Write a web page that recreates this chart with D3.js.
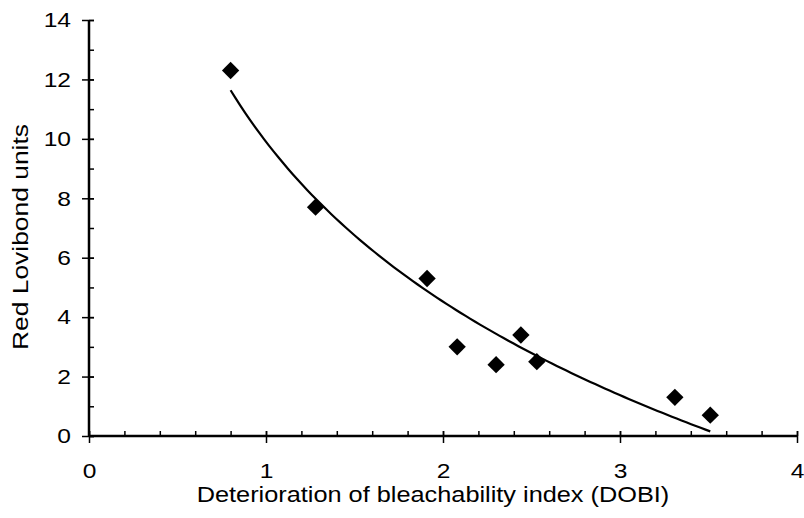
<!DOCTYPE html>
<html>
<head>
<meta charset="utf-8">
<script src="https://cdn.jsdelivr.net/npm/d3@7"></script>
<style>
  body { margin: 0; background: #fff; }
  svg { display: block; }
  text { font-family: "Liberation Sans", Arial, Helvetica, sans-serif; fill: #000; }
</style>
</head>
<body>
<svg id="chart"></svg>
<script>
// DOBI vs red colour
const dobi = [0.80, 1.28, 1.91, 2.08, 2.30, 2.44, 2.53, 3.31, 3.51];
const redUnits = [12.3, 7.7, 5.3, 3.0, 2.4, 3.4, 2.5, 1.3, 0.7];
const xTicks = [0, 1, 2, 3, 4];
const yTicks = [0, 2, 4, 6, 8, 10, 12, 14];
const xTitle = 'Deterioration of bleachability index (DOBI)';
const yTitle = 'Red Lovibond units';

const width = 804, height = 518;
const svg = d3.select('#chart').attr('width', width).attr('height', height);

const x = d3.scaleLinear().domain([0, 4]).range([89, 797]);
const y = d3.scaleLinear().domain([0, 14]).range([436, 20]);

// the original font is wider than Arial, stretch glyphs a bit
function widen(sel, k) {
    sel.each(function() {
        const w = this.getComputedTextLength();
        d3.select(this).attr('textLength', w * k).attr('lengthAdjust', 'spacingAndGlyphs');
    });
}

// logarithmic trendline fitted to the points (least squares on ln x)
const lx = dobi.map(Math.log);
const mx = d3.mean(lx), my = d3.mean(redUnits);
const b = d3.sum(lx, (v, i) => (v - mx) * (redUnits[i] - my)) / d3.sum(lx, v => (v - mx) ** 2);
const a = my - b * mx;
const fit = d3.range(0, 101).map(i => {
    const xv = d3.min(dobi) + (d3.max(dobi) - d3.min(dobi)) * i / 100;
    return [xv, a + b * Math.log(xv)];
});

// minor ticks first (inside only)
svg.append('g')
    .attr('transform', `translate(0,${y(0)})`)
    .call(d3.axisTop(x).tickValues(d3.range(0, 4.01, 0.2)).tickSize(5).tickFormat(''))
    .call(g => g.select('.domain').remove())
    .call(g => g.selectAll('line').attr('stroke-width', 1.5));

svg.append('g')
    .attr('transform', `translate(${x(0)},0)`)
    .call(d3.axisRight(y).tickValues(d3.range(0, 14.01, 1)).tickSize(5).tickFormat(''))
    .call(g => g.select('.domain').remove())
    .call(g => g.selectAll('line').attr('stroke-width', 1.5));

// major ticks crossing the axis
const xAxis = svg.append('g')
    .attr('transform', `translate(0,${y(0)})`)
    .call(d3.axisBottom(x).tickValues(xTicks).tickSize(7).tickPadding(20).tickFormat(d3.format('d')));
xAxis.selectAll('.tick line').attr('y1', -5).attr('stroke-width', 1.5);
xAxis.select('.domain').remove();
xAxis.selectAll('text').attr('font-size', 21).style('font-family', null).call(widen, 1.17);

const yAxis = svg.append('g')
    .attr('transform', `translate(${x(0)},0)`)
    .call(d3.axisLeft(y).tickValues(yTicks).tickSize(7).tickPadding(11).tickFormat(d3.format('d')));
yAxis.selectAll('.tick line').attr('x1', 5).attr('stroke-width', 1.5);
yAxis.select('.domain').remove();
yAxis.selectAll('text').attr('font-size', 21).style('font-family', null).call(widen, 1.17);

// axis lines
svg.append('line')
    .attr('x1', x(0)).attr('x2', x(4)).attr('y1', y(0)).attr('y2', y(0))
    .attr('stroke', '#000').attr('stroke-width', 2.5);
svg.append('line')
    .attr('x1', x(0)).attr('x2', x(0)).attr('y1', y(0)).attr('y2', y(14))
    .attr('stroke', '#000').attr('stroke-width', 2.5);

// trendline
svg.append('path')
    .datum(fit)
    .attr('d', d3.line().x(d => x(d[0])).y(d => y(d[1])))
    .attr('fill', 'none')
    .attr('stroke', '#000')
    .attr('stroke-width', 2.2);

// diamonds
svg.selectAll('.pt')
    .data(dobi)
    .enter().append('path')
    .attr('class', 'pt')
    .attr('d', d3.symbol(d3.symbolSquare, 150))
    .attr('transform', (d, i) => `translate(${x(d)},${y(redUnits[i])}) rotate(45)`)
    .attr('fill', '#000');

// titles
svg.append('text')
    .attr('x', 433).attr('y', 502)
    .attr('text-anchor', 'middle')
    .attr('font-size', 22)
    .text(xTitle)
    .call(widen, 1.15);

svg.append('text')
    .attr('transform', 'translate(28,237) rotate(-90)')
    .attr('text-anchor', 'middle')
    .attr('font-size', 22)
    .text(yTitle)
    .call(widen, 1.2);
</script>
</body>
</html>
